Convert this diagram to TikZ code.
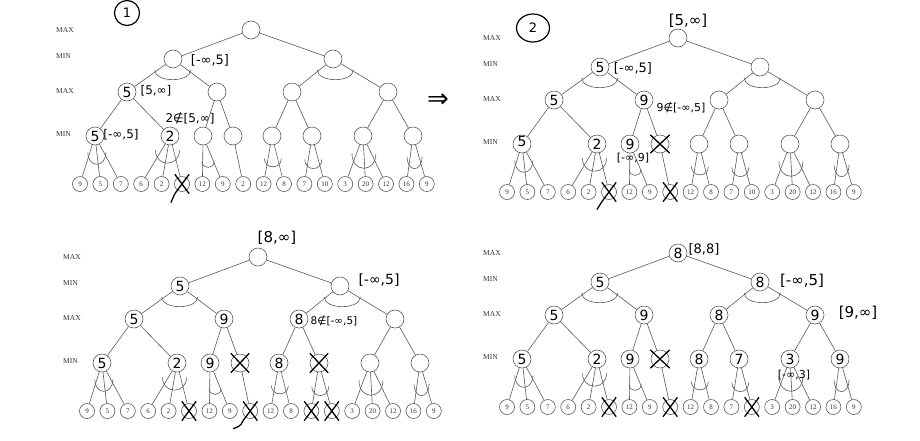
\documentclass[tikz,border=0pt]{standalone}
\usepackage{fontspec}
\setmainfont{Liberation Serif}
\newfontfamily\handfont{DejaVu Sans}
\usetikzlibrary{calc,shapes.misc,shapes.geometric}

\tikzset{
  tnode/.style={circle,draw=black!65,line width=0.6pt,minimum size=18pt,inner sep=0pt},
  leaf/.style={circle,draw=black!65,line width=0.6pt,minimum size=15pt,inner sep=0pt,
    font=\fontsize{7}{7}\selectfont,text=black!80},
  lvl/.style={anchor=west,inner sep=0pt,font=\fontsize{7.5}{7.5}\selectfont,text=black!80},
  tedge/.style={draw=black!65,line width=0.6pt},
  hand/.style={inner sep=0pt,font=\handfont\fontsize{14}{14}\selectfont},
  note/.style={inner sep=0pt,font=\handfont\fontsize{#1}{#1}\selectfont},
  note/.default=12,
  xmark/.style={cross out,draw=black,line width=1.3pt,minimum width=13pt,minimum height=18pt,inner sep=0pt},
  tag/.style={circle,draw=black,line width=1.2pt,minimum size=25pt,inner sep=0pt,
    font=\handfont\fontsize{13}{13}\selectfont},
}

% arc under a MIN node: #1 node, #2 #3 outer children, #4 fraction down, #5 half width, #6 sag
\newcommand{\minarc}[6]{%
  \coordinate (arcmid) at ($(#2)!0.5!(#3)$);
  \coordinate (arcc) at ($(#1)!#4!(arcmid)$);
  \draw[tedge] ($(arcc)+(-#5,0)$) .. controls +(0,#6) and +(0,#6) .. ($(arcc)+(#5,0)$);}

% the printed tree: #1 name prefix, #2 #3 root position, #4 leaf values
\newcommand{\gametree}[4]{%
\begin{scope}[shift={(#2,#3)}]
  \node[lvl] (#1-lmax1) at (-195,0) {MAX};
  \node[lvl] (#1-lmin1) at (-195,26) {MIN};
  \node[lvl] (#1-lmax2) at (-195,61) {MAX};
  \node[lvl] (#1-lmin2) at (-195,104) {MIN};
  \begin{scope}[every node/.style={tnode}]
  \node (#1-r) at (0,0) {};
  \node (#1-n1) at (-78,29) {};
  \node (#1-n2) at (82,29) {};
  \node (#1-m1) at (-124,62) {};
  \node (#1-m2) at (-34,62) {};
  \node (#1-m3) at (41,62) {};
  \node (#1-m4) at (137,62) {};
  \node (#1-k1) at (-156,106) {};
  \node (#1-k2) at (-81,106) {};
  \node (#1-k3) at (-48,106) {};
  \node (#1-k4) at (-18,106) {};
  \node (#1-k5) at (21,106) {};
  \node (#1-k6) at (61,106) {};
  \node (#1-k7) at (112,106) {};
  \node (#1-k8) at (162,106) {};
  \end{scope}
  \foreach \v [count=\i] in {#4}
    \node[leaf] (#1-l\i) at ({-171+20.4*(\i-1)},154) {\v};
  \begin{scope}[every edge/.style={tedge}]
  \path (#1-r) edge (#1-n1) edge (#1-n2);
  \path (#1-n1) edge (#1-m1) edge (#1-m2);
  \path (#1-n2) edge (#1-m3) edge (#1-m4);
  \path (#1-m1) edge (#1-k1) edge (#1-k2);
  \path (#1-m2) edge (#1-k3) edge (#1-k4);
  \path (#1-m3) edge (#1-k5) edge (#1-k6);
  \path (#1-m4) edge (#1-k7) edge (#1-k8);
  \path (#1-k1) edge (#1-l1) edge (#1-l2) edge (#1-l3);
  \path (#1-k2) edge (#1-l4) edge (#1-l5) edge (#1-l6);
  \path (#1-k3) edge (#1-l7) edge (#1-l8);
  \path (#1-k4) edge (#1-l9);
  \path (#1-k5) edge (#1-l10) edge (#1-l11);
  \path (#1-k6) edge (#1-l12) edge (#1-l13);
  \path (#1-k7) edge (#1-l14) edge (#1-l15) edge (#1-l16);
  \path (#1-k8) edge (#1-l17) edge (#1-l18);
  \end{scope}
  \minarc{#1-n1}{#1-m1}{#1-m2}{0.33}{18}{13}
  \minarc{#1-n2}{#1-m3}{#1-m4}{0.33}{18}{13}
  \minarc{#1-k1}{#1-l1}{#1-l3}{0.34}{9}{16}
  \minarc{#1-k2}{#1-l4}{#1-l6}{0.3}{12}{17}
  \minarc{#1-k3}{#1-l7}{#1-l8}{0.53}{6}{8}
  \minarc{#1-k5}{#1-l10}{#1-l11}{0.47}{8.5}{11}
  \minarc{#1-k6}{#1-l12}{#1-l13}{0.49}{8.5}{12}
  \minarc{#1-k7}{#1-l14}{#1-l16}{0.36}{12}{20}
  \minarc{#1-k8}{#1-l17}{#1-l18}{0.43}{7.5}{16}
\end{scope}}

\begin{document}
\begin{tikzpicture}[x=1pt,y=-1pt]
\useasboundingbox (0,0) rectangle (920,440);

\gametree{p1}{251}{30}{9,5,7,6,2,{},12,9,2,12,8,7,10,3,20,12,16,9}
\gametree{p2}{678}{38}{9,5,7,6,2,{},12,9,{},12,8,7,10,3,20,12,16,9}
\gametree{p3}{258}{257}{9,5,7,6,2,{},12,9,{},12,8,{},{},3,20,12,16,9}
\gametree{p4}{678}{253}{9,5,7,6,2,{},12,9,{},12,8,7,{},3,20,12,16,9}

% step 1
\node[tag] (p1-tag) at (127,13) {1};
\node[note=13] (p1-a1) at (210,60) {[-∞,5]};
\node[hand] (p1-v1) at (p1-m1) {5};
\node[note=12] (p1-a2) at (156,91) {[5,∞]};
\node[note=12] (p1-a3) at (190,118) {2∉[5,∞]};
\node[hand] (p1-v2) at (p1-k1) {5};
\node[note=12] (p1-a4) at (121,135) {[-∞,5]};
\node[hand] (p1-v3) at (p1-k2) {2};
\node[xmark] (p1-x1) at (p1-l6) {};
\draw[line width=1.3pt] (p1-x1.south west) -- +(-4,9);
\node[hand,font=\handfont\fontsize{26}{26}\selectfont] (next) at (438,101) {⇒};

% step 2
\node[tag,ellipse,minimum width=33pt,minimum height=28pt] (p2-tag) at (533,28) {2};
\node[note=15] (p2-a1) at (688,21) {[5,∞]};
\node[hand] (p2-v1) at (p2-n1) {5};
\node[note=13] (p2-a2) at (633,68) {[-∞,5]};
\node[hand] (p2-v2) at (p2-m1) {5};
\node[hand] (p2-v3) at (p2-m2) {9};
\node[note=11] (p2-a3) at (681,108) {9∉[-∞,5]};
\node[hand] (p2-v4) at (522,141) {5};
\node[hand] (p2-v5) at (p2-k2) {2};
\node[hand] (p2-v6) at (p2-k3) {9};
\node[note=11] (p2-a4) at (633,158) {[-∞,9]};
\node[xmark,minimum width=18pt,minimum height=17pt] (p2-x1) at (p2-k4) {};
\node[xmark] (p2-x2) at (p2-l6) {};
\draw[line width=1.3pt] (p2-x2.south west) -- +(-5,8);
\node[xmark] (p2-x3) at (p2-l9) {};

% step 3
\node[note=15] (p3-a1) at (277,238) {[8,∞]};
\node[hand] (p3-v1) at (p3-n1) {5};
\node[note=14] (p3-a2) at (379,280) {[-∞,5]};
\node[hand] (p3-v2) at (p3-m1) {5};
\node[hand] (p3-v3) at (p3-m2) {9};
\node[hand] (p3-v4) at (p3-m3) {8};
\node[note=10.5] (p3-a3) at (334,321) {8∉[-∞,5]};
\node[hand] (p3-v5) at (p3-k1) {5};
\node[hand] (p3-v6) at (p3-k2) {2};
\node[hand] (p3-v7) at (p3-k3) {9};
\node[xmark,minimum width=17pt,minimum height=18pt] (p3-x1) at (p3-k4) {};
\node[hand] (p3-v8) at (p3-k5) {8};
\node[xmark,minimum width=17pt,minimum height=18pt] (p3-x2) at (p3-k6) {};
\node[xmark] (p3-x3) at (p3-l6) {};
\node[xmark] (p3-x4) at (p3-l9) {};
\draw[line width=1.3pt] (p3-x4.south west) .. controls +(-2,6) and +(3,-1) .. +(-10,8);
\node[xmark] (p3-x5) at (p3-l12) {};
\node[xmark] (p3-x6) at (p3-l13) {};

% step 4
\node[hand] (p4-v0) at (p4-r) {8};
\node[note=13] (p4-a1) at (704,249) {[8,8]};
\node[hand] (p4-v1) at (p4-n1) {5};
\node[hand] (p4-v2) at (p4-n2) {8};
\node[note=15] (p4-a2) at (802,281) {[-∞,5]};
\node[hand] (p4-v3) at (p4-m1) {5};
\node[hand] (p4-v4) at (p4-m2) {9};
\node[hand] (p4-v5) at (p4-m3) {8};
\node[hand] (p4-v6) at (p4-m4) {9};
\node[note=15] (p4-a3) at (858,313) {[9,∞]};
\node[hand] (p4-v7) at (p4-k1) {5};
\node[hand] (p4-v8) at (p4-k2) {2};
\node[hand] (p4-v9) at (p4-k3) {9};
\node[xmark,minimum width=18pt,minimum height=17pt] (p4-x1) at (p4-k4) {};
\node[hand] (p4-v10) at (p4-k5) {8};
\node[hand] (p4-v11) at (p4-k6) {7};
\node[hand] (p4-v12) at (p4-k7) {3};
\node[hand] (p4-v13) at (p4-k8) {9};
\node[note=11] (p4-a4) at (794,375) {[-∞,3]};
\node[xmark] (p4-x2) at (p4-l6) {};
\node[xmark] (p4-x3) at (p4-l9) {};
\node[xmark] (p4-x4) at (p4-l13) {};
\end{tikzpicture}
\end{document}
